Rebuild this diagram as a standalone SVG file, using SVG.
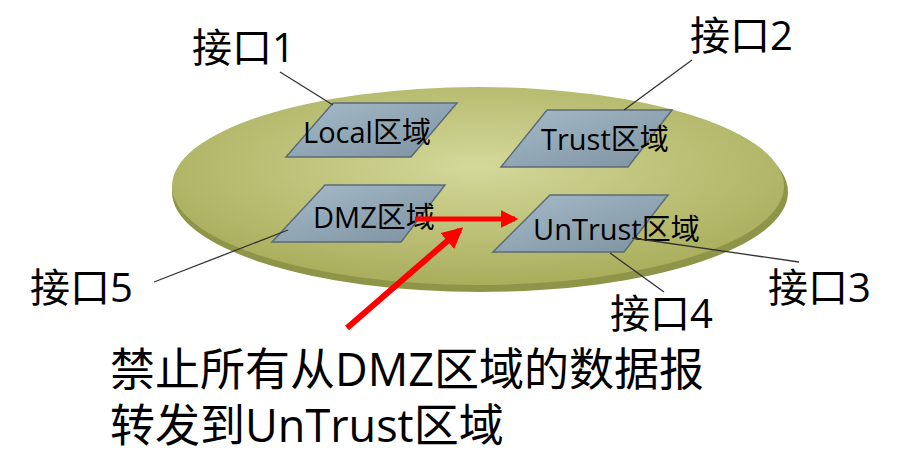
<svg xmlns="http://www.w3.org/2000/svg" width="918" height="466" viewBox="0 0 918 466">
<defs>
<radialGradient id="eg" cx="0.5" cy="0.4" r="0.6"><stop offset="0" stop-color="#d4d89a"/><stop offset="1" stop-color="#a9ae5c"/></radialGradient>
<linearGradient id="pg" x1="0" y1="0" x2="1" y2="1"><stop offset="0" stop-color="#a6bccb"/><stop offset="1" stop-color="#7d91a0"/></linearGradient>
<marker id="ah" viewBox="0 0 10 10" refX="8" refY="5" markerWidth="3.5" markerHeight="3.5" orient="auto"><path d="M0,0 L10,5 L0,10 z" fill="#ff0000"/></marker>
<style>
.z{fill:url(#pg);stroke:#5d6b75;stroke-width:1.5}
.zt{font-family:"Open Sans","Noto Sans CJK SC",sans-serif;font-size:29px;fill:#000}
.lt{font-family:"Open Sans","Noto Sans CJK SC",sans-serif;font-size:40px;fill:#000}
.bt{font-family:"Open Sans","Noto Sans CJK SC",sans-serif;font-size:45px;fill:#000}
.ld{stroke:#333;stroke-width:1.3;fill:none}
.ar{stroke:#ff0000;fill:none;marker-end:url(#ah)}
</style>
</defs>
<ellipse cx="480" cy="192" rx="308" ry="100" fill="#8f9548"/>
<ellipse cx="478" cy="186" rx="306" ry="99" fill="url(#eg)"/>
<g id="local"><polygon class="z" points="333,103 457,103 411,157 286,157"/><text class="zt" x="303" y="143">Local区域</text></g>
<g id="trust"><polygon class="z" points="547,110 672,110 628,167 501,167"/><text class="zt" x="541" y="150">Trust区域</text></g>
<g id="dmz"><polygon class="z" points="325,185 445,185 401,242 272,242"/><text class="zt" x="313" y="228">DMZ区域</text></g>
<g id="untrust"><polygon class="z" points="550,195 668,195 624,252 493,252"/><text class="zt" x="533" y="240">UnTrust区域</text></g>
<g id="labels">
<text class="lt" x="192" y="62">接口1</text>
<text class="lt" x="690" y="50">接口2</text>
<text class="lt" x="30" y="302">接口5</text>
<text class="lt" x="768" y="302">接口3</text>
<text class="lt" x="610" y="328">接口4</text>
<text class="bt" x="110" y="386">禁止所有从DMZ区域的数据报</text>
<text class="bt" x="110" y="442">转发到UnTrust区域</text>
</g>
<g id="connectors">
<line class="ld" x1="280" y1="72" x2="333" y2="105"/>
<line class="ld" x1="692" y1="60" x2="624" y2="110"/>
<line class="ld" x1="154" y1="282" x2="288" y2="230"/>
<line class="ld" x1="799" y1="262" x2="632" y2="238"/>
<line class="ld" x1="664" y1="292" x2="610" y2="253"/>
<line class="ar" x1="415" y1="219" x2="515" y2="219" stroke-width="5"/>
<line class="ar" x1="347" y1="328" x2="460" y2="230" stroke-width="6"/>
</g>
</svg>
